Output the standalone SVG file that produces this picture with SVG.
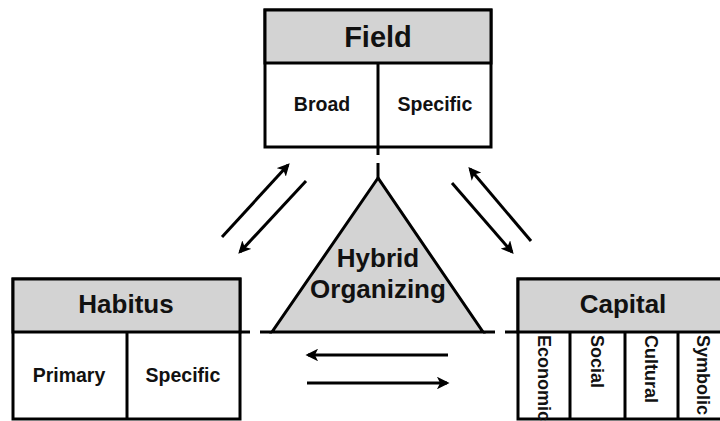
<svg xmlns="http://www.w3.org/2000/svg" width="720" height="421" viewBox="0 0 720 421">
  <style>
    .box { fill: #ffffff; stroke: #000000; stroke-width: 3; }
    .head { fill: #d3d3d3; stroke: #000000; stroke-width: 3; }
    .line { fill: none; stroke: #000000; stroke-width: 3; }
    .arrow { fill: none; stroke: #000000; stroke-width: 3; marker-end: url(#tip); }
    text { font-family: "Liberation Sans", Arial, sans-serif; font-weight: bold; fill: #111111; }
    .title { font-size: 29px; text-anchor: middle; }
    .title2 { font-size: 26px; text-anchor: middle; }
    .cell { font-size: 19.5px; text-anchor: middle; }
    .vcell { font-size: 18px; }
  </style>
  <defs>
    <marker id="tip" viewBox="0 0 10 10" refX="8" refY="5" markerWidth="4.2" markerHeight="4.2" orient="auto" markerUnits="strokeWidth">
      <path d="M0,0 L10,5 L0,10 L2.5,5 Z" fill="#000000"/>
    </marker>
  </defs>

  <!-- connectors -->
  <g id="connectors">
    <!-- dashed ties from the boxes to the triangle -->
    <line class="line" x1="378" y1="147" x2="378" y2="155"/>
    <line class="line" x1="378" y1="163" x2="378" y2="178"/>
    <line class="line" x1="240" y1="332" x2="250" y2="332"/>
    <line class="line" x1="260" y1="332" x2="272" y2="332"/>
    <line class="line" x1="483" y1="332" x2="495" y2="332"/>
    <line class="line" x1="505" y1="332" x2="518" y2="332"/>
    <!-- Field / Habitus -->
    <line class="arrow" x1="222" y1="237" x2="288" y2="165"/>
    <line class="arrow" x1="306" y1="181" x2="240" y2="252"/>
    <!-- Field / Capital -->
    <line class="arrow" x1="531" y1="241" x2="470" y2="169"/>
    <line class="arrow" x1="452" y1="183" x2="512" y2="252"/>
    <!-- Habitus / Capital -->
    <line class="arrow" x1="448" y1="355" x2="308" y2="355"/>
    <line class="arrow" x1="307" y1="383" x2="447" y2="383"/>
  </g>

  <!-- Field -->
  <g id="field">
    <rect class="box" x="265" y="10" width="226" height="137"/>
    <rect class="head" x="265" y="10" width="226" height="53"/>
    <line class="line" x1="378" y1="63" x2="378" y2="147"/>
    <text class="title" x="378" y="47">Field</text>
    <text class="cell" x="322" y="111">Broad</text>
    <text class="cell" x="435" y="111">Specific</text>
  </g>

  <!-- Hybrid Organizing -->
  <g id="hybrid">
    <polygon points="378,178 272,332 483,332" fill="#d3d3d3" stroke="#000000" stroke-width="3" stroke-linejoin="miter"/>
    <text class="title2" x="378" y="267">Hybrid</text>
    <text class="title2" x="378" y="298">Organizing</text>
  </g>

  <!-- Habitus -->
  <g id="habitus">
    <rect class="box" x="13" y="279" width="227" height="140"/>
    <rect class="head" x="13" y="279" width="227" height="53"/>
    <line class="line" x1="127" y1="332" x2="127" y2="419"/>
    <text class="title2" x="126" y="313">Habitus</text>
    <text class="cell" x="69" y="382">Primary</text>
    <text class="cell" x="183" y="382">Specific</text>
  </g>

  <!-- Capital -->
  <g id="capital">
    <rect class="box" x="518" y="279" width="212" height="140"/>
    <rect class="head" x="518" y="279" width="212" height="53"/>
    <line class="line" x1="570" y1="332" x2="570" y2="419"/>
    <line class="line" x1="625" y1="332" x2="625" y2="419"/>
    <line class="line" x1="678" y1="332" x2="678" y2="419"/>
    <text class="title2" x="623" y="313">Capital</text>
    <text class="vcell" transform="translate(538,335) rotate(90)">Economic</text>
    <text class="vcell" transform="translate(591,335) rotate(90)">Social</text>
    <text class="vcell" transform="translate(645,335) rotate(90)">Cultural</text>
    <text class="vcell" transform="translate(697,335) rotate(90)">Symbolic</text>
  </g>
</svg>
